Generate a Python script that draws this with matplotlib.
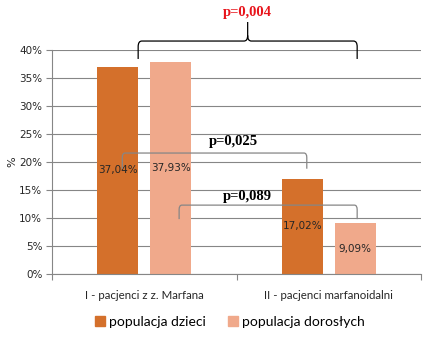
import numpy as np
import matplotlib.pyplot as plt
from matplotlib.path import Path
from matplotlib.patches import PathPatch, Patch

#datos
categories = ["I - pacjenci z z. Marfana", "II - pacjenci marfanoidalni"]
series_names = ["populacja dzieci", "populacja dorosłych"]
children = [37.04, 17.02]
adults = [37.93, 9.09]
p_labels = ["p=0,004", "p=0,025", "p=0,089"]

dark = "#D4702B"
light = "#F0A98B"
grey = "#868686"

fig = plt.figure(figsize=(4.46, 3.49), dpi=100)
ax = fig.add_axes([52 / 446, 1 - 274 / 349, 369 / 446, 224 / 349])

x = np.arange(len(categories))
w = 0.222
off = 0.144
bars1 = ax.bar(x - off, children, w, color=dark, zorder=2)
bars2 = ax.bar(x + off, adults, w, color=light, zorder=2)

#etiquetas de valores en el centro de las barras
for bars, vals in [(bars1, children), (bars2, adults)]:
    for b, v in zip(bars, vals):
        ax.text(b.get_x() + b.get_width() / 2, v / 2, f"{v:.2f}%".replace(".", ","),
                ha="center", va="center", fontsize=7.5, color="#262626", zorder=3)

ax.set_xlim(-0.5, 1.5)
ax.set_ylim(0, 40)
ax.set_yticks(np.arange(0, 41, 5))
ax.set_yticklabels([f"{t}%" for t in range(0, 41, 5)], fontsize=7.5, color="#262626")
ax.yaxis.grid(True, color=grey, linewidth=0.8, zorder=0)
ax.set_axisbelow(True)
ax.set_xticks([-0.5, 0.5, 1.5])
ax.set_xticklabels([])
ax.tick_params(axis="x", length=4, color=grey, direction="out")
ax.tick_params(axis="y", length=4, color=grey, pad=3)
for i, c in enumerate(categories):
    ax.text(i, -2.9, c, ha="center", va="top", fontsize=8.3, family="Lato", color="#262626")
for s in ["top", "right"]:
    ax.spines[s].set_visible(False)
ax.spines["left"].set_color(grey)
ax.spines["bottom"].set_color(grey)
ax.set_ylabel("%", fontsize=8, color="#262626")
ax.yaxis.set_label_coords(-0.095, 0.5)


def bracket(x0, x1, yh, yb, color, rx=0.015, ry=0.8, peak=None):
    verts = [(x0, yb), (x0, yh - ry), (x0, yh), (x0 + rx, yh)]
    codes = [Path.MOVETO, Path.LINETO, Path.CURVE3, Path.CURVE3]
    if peak is None:
        verts += [(x1 - rx, yh)]
        codes += [Path.LINETO]
    else:
        xc = (x0 + x1) / 2
        verts += [(xc - rx, yh), (xc, yh), (xc, yh + ry), (xc, peak),
                  (xc, yh + ry), (xc, yh), (xc + rx, yh), (x1 - rx, yh)]
        codes += [Path.LINETO, Path.CURVE3, Path.CURVE3, Path.LINETO,
                  Path.MOVETO, Path.CURVE3, Path.CURVE3, Path.LINETO]
    verts += [(x1, yh), (x1, yh - ry), (x1, yb)]
    codes += [Path.CURVE3, Path.CURVE3, Path.LINETO]
    ax.add_patch(PathPatch(Path(verts, codes), fill=False, edgecolor=color,
                           linewidth=0.9, clip_on=False, zorder=4))


#llave grande
bx0 = bars1[0].get_x() + w
bx1 = bars2[1].get_x() + w / 2 + 0.01
bracket(bx0, bx1, 41.6, 38.4, "black", rx=0.02, ry=1.0, peak=45.0)
ax.text((bx0 + bx1) / 2, 46.7, p_labels[0], ha="center", va="center", color="#E8141B",
        fontsize=10.5, fontweight="bold", family="Liberation Serif", clip_on=False)

#corchetes pequeños
c0 = bars1[0].get_x() + w / 2 + 0.025
c1 = bars1[1].get_x() + w / 2 + 0.025
bracket(c0, c1, 21.6, 18.8, grey)
ax.text(0.481, 23.7, p_labels[1], ha="center", va="center", color="black",
        fontsize=10.5, fontweight="bold", family="Liberation Serif")

d0 = bars2[0].get_x() + w / 2 + 0.045
d1 = bars2[1].get_x() + w / 2 + 0.01
bracket(d0, d1, 12.3, 9.8, grey)
ax.text(0.557, 13.85, p_labels[2], ha="center", va="center", color="black",
        fontsize=10.5, fontweight="bold", family="Liberation Serif")

#leyenda
handles = [Patch(color=dark, label=series_names[0]), Patch(color=light, label=series_names[1])]
fig.legend(handles=handles, loc="center", bbox_to_anchor=(230 / 446, 1 - 322 / 349), ncol=2,
           frameon=False, prop={"family": "Lato", "size": 10}, handlelength=0.7,
           handleheight=0.7, handletextpad=0.3, columnspacing=1.6)

fig.savefig("out.png", dpi=100)
